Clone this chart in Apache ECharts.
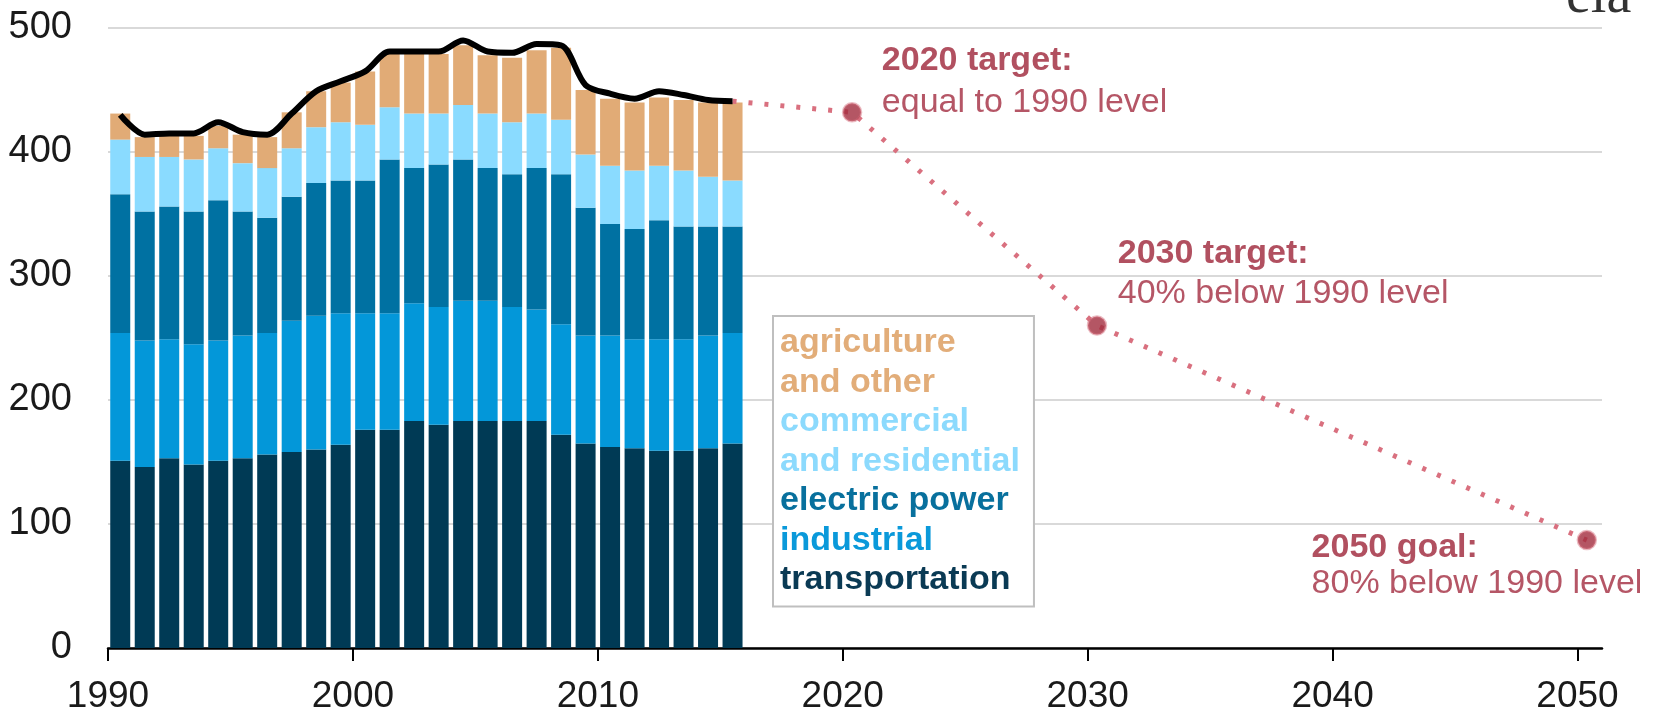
<!DOCTYPE html>
<html>
<head>
<meta charset="utf-8">
<script src="https://cdn.jsdelivr.net/npm/echarts@6/dist/echarts.min.js"></script>
<style>
html,body{margin:0;padding:0;background:#fff;overflow:hidden;}
#chart{width:1661px;height:711px;}
</style>
</head>
<body>
<div id="chart"></div>
<script>
// ---- data ----
const years = [1990,1991,1992,1993,1994,1995,1996,1997,1998,1999,2000,2001,2002,2003,2004,2005,2006,2007,2008,2009,2010,2011,2012,2013,2014,2015];
const transportation = [151,146,153,148,151,153,156,158,160,164,176,176,183,180,183,183,183,183,172,165,162,161,159,159,161,165];
const industrial     = [103,102,96,97,97,99,98,106,108,106,94,94,95,95,97,97,92,90,89,87,90,88,90,90,91,89];
const electricPower  = [112,104,107,107,113,100,93,100,107,107,107,124,109,115,114,107,107,114,121,103,90,89,96,91,88,86];
const commercial     = [44,44,40,42,42,39,40,39,45,47,45,42,44,41,44,44,42,44,44,43,47,47,44,45,40,37];
const agriculture    = [21,16,17,19,18,23,25,29,29,32,43,43,48,48,48,47,52,51,58,52,54,55,55,57,60,63];
const totalLine      = [430,414,415,415,424,416,414,431,449,457,465,481,481,481,490,481,480,487,486,454,447,443,449,446,442,441];
const targetYears    = [2020,2030,2050];
const targetValues   = [432,260,87];
const targetTitles   = ['2020 target:','2030 target:','2050 goal:'];
const targetTexts    = ['equal to 1990 level','40% below 1990 level','80% below 1990 level'];
const xTicks = [1990,2000,2010,2020,2030,2040,2050];
const yTicks = [0,100,200,300,400,500];

// ---- presentation ----
const FONT = "'Liberation Sans', Arial, sans-serif";
const X_MIN = 1990, X_MAX = 2051;
const TARGET_SHIFT = 0.38;
const RED = '#9e2438';
// one category band per year across the whole value-axis span (bars sit in their year's band)
const yearBands = [];
for (let y = X_MIN; y < X_MAX; y++) yearBands.push(String(y));
const bandIndex = y => y - X_MIN;

const series = [];
const stacks = [
  {name:'transportation', vals:transportation, color:'#003a55'},
  {name:'industrial', vals:industrial, color:'#0397d9'},
  {name:'electric power', vals:electricPower, color:'#0071a2'},
  {name:'commercial\nand residential', vals:commercial, color:'#8adbff'},
  {name:'agriculture\nand other', vals:agriculture, color:'#e1ab76'}
];
stacks.forEach(s => {
  const d = yearBands.map(()=>null);
  years.forEach((y,i)=>{ d[bandIndex(y)] = s.vals[i]; });
  series.push({
    name: s.name, type:'bar', stack:'total', barWidth:20,
    xAxisIndex:1,
    itemStyle:{color:s.color},
    data: d, z:2
  });
});
const lineData = yearBands.map(()=>null);
years.forEach((y,i)=>{ lineData[bandIndex(y)] = totalLine[i]; });
series.push({
  name:'total', type:'line', smooth:0.3, showSymbol:false, xAxisIndex:1,
  connectNulls:false,
  lineStyle:{color:'#000', width:6},
  data: lineData, z:5
});
const last = years.length-1;
series.push({
  name:'path', type:'line', showSymbol:false, xAxisIndex:0,
  lineStyle:{color:'#d9707f', width:5, type:[4,12], cap:'butt'},
  data: [[years[last]+0.5, totalLine[last]]].concat(targetYears.map((y,i)=>[y+TARGET_SHIFT, targetValues[i]])),
  z:4
});
const labelPos = [[40,-62],[31,-82],[-265,0]];
const lineH = [41.5,40,36];
series.push({
  name:'targets', type:'scatter', symbolSize:18, xAxisIndex:0,
  itemStyle:{color:'#a12c3d', borderColor:'rgba(214,110,126,0.6)', borderWidth:2.5},
  data: targetYears.map((y,i)=>({
    value:[y+TARGET_SHIFT, targetValues[i]],
    label:{
      show:true, position:labelPos[i], align:'left', verticalAlign:'top',
      formatter:'{b|'+targetTitles[i]+'}\n{n|'+targetTexts[i]+'}',
      rich:{
        b:{fontFamily:FONT, fontSize:34, fontWeight:'bold', color:RED, lineHeight:lineH[i]},
        n:{fontFamily:FONT, fontSize:34, color:'#a32c40', lineHeight:lineH[i]}
      }
    }
  })),
  z:6
});

const chart = echarts.init(document.getElementById('chart'), null, {renderer:'canvas'});
chart.setOption({
  animation:false,
  backgroundColor:'#fff',
  grid:{left:108, right:59, top:28, bottom:63, containLabel:false, outerBoundsMode:'none'},
  xAxis:[{
    type:'value', min:X_MIN, max:X_MAX, interval:10,
    splitLine:{show:false},
    axisLine:{show:true, onZero:false, lineStyle:{color:'#000', width:2.5}},
    axisTick:{show:true, length:13, lineStyle:{color:'#000', width:2}, customValues:xTicks},
    axisLabel:{customValues:xTicks, margin:30, fontSize:37, fontFamily:FONT, color:'#1a1a1a', formatter:v=>String(v)}
  },{
    type:'category', data:yearBands, boundaryGap:true, show:false, position:'bottom'
  }],
  yAxis:{
    type:'value', min:0, max:500, interval:100,
    axisLine:{show:false}, axisTick:{show:false},
    splitLine:{show:true, lineStyle:{color:'#d9d9d9', width:2}},
    axisLabel:{customValues:yTicks, margin:36, fontSize:38, fontFamily:FONT, color:'#1a1a1a'}
  },
  legend:{
    show:true, orient:'vertical', left:773, top:316,
    padding:[7,14,7,2], itemGap:0, itemWidth:0, itemHeight:0, icon:'none',
    selectedMode:false,
    borderColor:'#bfbfbf', borderWidth:2, backgroundColor:'#fff',
    textStyle:{fontFamily:FONT, fontSize:34, fontWeight:'bold', lineHeight:39.5},
    data:[
      {name:'agriculture\nand other', textStyle:{color:'#e2ad79'}},
      {name:'commercial\nand residential', textStyle:{color:'#8cdafd'}},
      {name:'electric power', textStyle:{color:'#08709d'}},
      {name:'industrial', textStyle:{color:'#0a99da'}},
      {name:'transportation', textStyle:{color:'#0a3a54'}}
    ]
  },
  graphic:[
    {type:'text', left:1566, top:-31, z:10,
     style:{text:'eia', font:"56px 'Liberation Serif', 'DejaVu Serif', serif", fill:'#333'}}
  ],
  series: series
});
</script>
</body>
</html>
